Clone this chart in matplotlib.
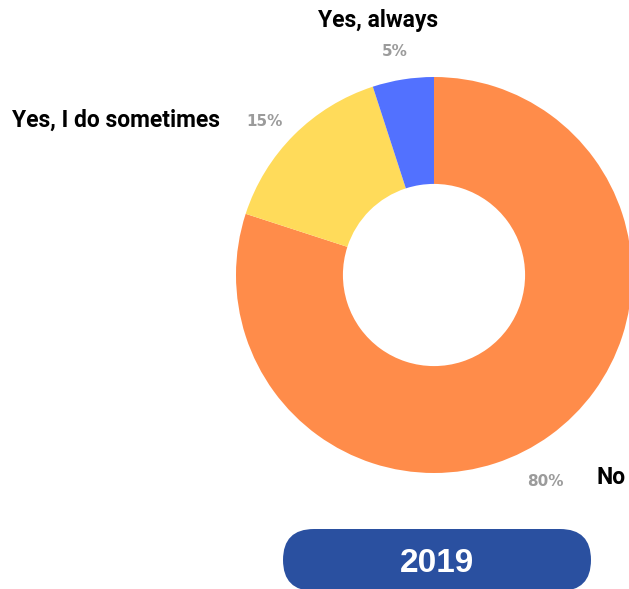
import matplotlib.pyplot as plt
from matplotlib.patches import FancyBboxPatch

# survey answers
answers = ['No', 'Yes, I do sometimes', 'Yes, always']
shares = [80, 15, 5]
colors = ['#FF8C4A', '#FFDB5A', '#5271FF']
year = '2019'

W, H = 629, 589
fig = plt.figure(figsize=(W / 100, H / 100), dpi=100)
ax = fig.add_axes([0, 0, 1, 1])
ax.set_xlim(0, W)
ax.set_ylim(0, H)
ax.set_aspect('equal')
ax.axis('off')

# donut, counted clockwise from 12 o'clock
cx, cy, r = 434, H - 275, 198
ax.pie(shares, colors=colors, startangle=90, counterclock=False,
       center=(cx, cy), radius=r, wedgeprops=dict(width=r * 0.54, linewidth=0))
ax.set_xlim(0, W)
ax.set_ylim(0, H)

lab = dict(family=['Roboto', 'DejaVu Sans'], fontweight='semibold', fontsize=16.5, color='black')
pct = dict(family=['DejaVu Sans'], fontweight='bold', fontsize=11, color='#8a8a8a', alpha=0.85)

ax.text(378, H - 20, answers[2], ha='center', va='center', **lab)
ax.text(395, H - 52, f'{shares[2]}%', ha='center', va='center', **pct)
ax.text(12, H - 120, answers[1], ha='left', va='center', **lab)
ax.text(265, H - 121, f'{shares[1]}%', ha='center', va='center', **pct)
ax.text(597, H - 477, answers[0], ha='left', va='center', **lab)
ax.text(545, H - 481, f'{shares[0]}%', ha='center', va='center', **pct)

# year badge
pill = FancyBboxPatch((283, H - 591), 308, 62, boxstyle='round,pad=0,rounding_size=31',
                      facecolor='#2A50A0', edgecolor='none')
ax.add_patch(pill)
ax.text(437, H - 563, year, ha='center', va='center', color='white',
        fontsize=24, fontweight='bold', family=['Liberation Sans', 'DejaVu Sans'])

fig.savefig('out.png', dpi=100)
